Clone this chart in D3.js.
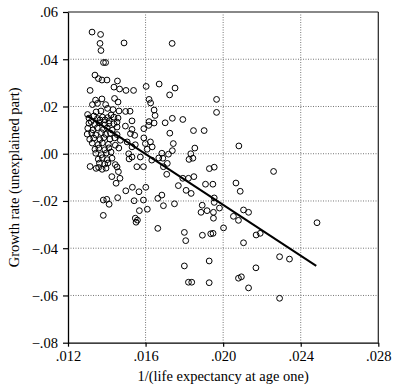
<!DOCTYPE html>
<html>
<head>
<meta charset="utf-8">
<script src="https://cdn.jsdelivr.net/npm/d3@7"></script>
<style>
  body { margin: 0; background: #fff; }
  svg { display: block; }
  text { font-family: "Liberation Serif", "Times New Roman", serif; }
</style>
</head>
<body>
<div id="chart"></div>
<script>
// 1/(life expectancy at age one)
const lifeInv = [
  0.01324, 0.01368, 0.01365, 0.01489, 0.01737, 0.01370, 0.01383, 0.01394, 0.01339, 0.01357,
  0.01375, 0.01401, 0.01455, 0.01437, 0.01466, 0.01499, 0.01538, 0.01603, 0.01670, 0.01752,
  0.01724, 0.01966, 0.01966, 0.01314, 0.01342, 0.01375, 0.01440, 0.01326, 0.01352, 0.01394,
  0.01458, 0.01618, 0.01626, 0.01301, 0.01345, 0.01370, 0.01404, 0.01432, 0.01463, 0.01497,
  0.01520, 0.01644, 0.01649, 0.01319, 0.01352, 0.01378, 0.01404, 0.01422, 0.01437, 0.01458,
  0.01453, 0.01530, 0.01618, 0.01644, 0.01701, 0.01738, 0.01792, 0.01725, 0.01847, 0.01902,
  0.01743, 0.01854, 0.01738, 0.02081, 0.01684, 0.01718, 0.01833, 0.01824, 0.01844, 0.01689,
  0.01712, 0.01692, 0.01709, 0.01929, 0.01954, 0.02260, 0.01792, 0.01821, 0.01849, 0.01769,
  0.01809, 0.01835, 0.01909, 0.01947, 0.02066, 0.02088, 0.01684, 0.01692, 0.01749, 0.01954,
  0.01954, 0.01892, 0.01981, 0.01886, 0.01917, 0.01950, 0.01950, 0.02053, 0.02079, 0.02105,
  0.02131, 0.02002, 0.01800, 0.01807, 0.01893, 0.01936, 0.01948, 0.02105, 0.02170, 0.02191,
  0.02291, 0.01800, 0.01928, 0.02169, 0.01821, 0.01838, 0.01928, 0.02079, 0.02094, 0.02131,
  0.02291, 0.02484, 0.02342, 0.01314, 0.01345, 0.01382, 0.01400, 0.01412, 0.01382, 0.01456,
  0.01498, 0.01532, 0.01566, 0.01601, 0.01541, 0.01589, 0.01568, 0.01609, 0.01547, 0.01558,
  0.01551, 0.01663, 0.01663, 0.01426, 0.01448, 0.01468, 0.01460, 0.01555, 0.01589, 0.01515,
  0.01632, 0.01436, 0.01453, 0.01496, 0.01530, 0.01522, 0.01544, 0.01591, 0.01616, 0.01453,
  0.01441, 0.01470, 0.01444, 0.01462, 0.01505, 0.01530, 0.01547, 0.01591, 0.01599, 0.01625,
  0.01634, 0.01608, 0.01513, 0.01530, 0.01573, 0.01444, 0.01453, 0.01668,
  0.01308, 0.01338, 0.01360, 0.01390, 0.01411,
  0.01302, 0.01329, 0.01351, 0.01383, 0.01402, 0.01428,
  0.01299, 0.01322, 0.01343, 0.01373, 0.01394, 0.01419,
  0.01312, 0.01333, 0.01365, 0.01385, 0.01416,
  0.01325, 0.01356, 0.01377, 0.01408,
  0.01339, 0.01359, 0.01390, 0.01411,
  0.01343, 0.01372, 0.01398,
  0.01356, 0.01377, 0.01402,
  0.01362, 0.01389, 0.01358, 0.01376, 0.01396,
  0.01308, 0.01334, 0.01365, 0.01391, 0.01412, 0.01422, 0.01427, 0.01406
];

// growth rate (unexplained part)
const growth = [
  0.0515, 0.0505, 0.0467, 0.0469, 0.0467, 0.0437, 0.0386, 0.0386, 0.0333, 0.0318,
  0.0312, 0.0312, 0.0308, 0.0282, 0.0274, 0.0268, 0.0268, 0.0285, 0.0295, 0.0278,
  0.0249, 0.0230, 0.0175, 0.0268, 0.0227, 0.0232, 0.0234, 0.0208, 0.0213, 0.0208,
  0.0219, 0.0230, 0.0215, 0.0166, 0.0177, 0.0181, 0.0192, 0.0187, 0.0181, 0.0179,
  0.0180, 0.0185, 0.0162, 0.0136, 0.0149, 0.0155, 0.0153, 0.0164, 0.0155, 0.0151,
  0.0134, 0.0139, 0.0136, 0.0130, 0.0131, 0.0150, 0.0145, 0.0087, 0.0098, 0.0098,
  0.0043, 0.0024, 0.0013, 0.0033, 0.0002, -0.0002, 0.0000, -0.0024, -0.0019, -0.0019,
  -0.0041, -0.0055, -0.0087, -0.0063, -0.0057, -0.0075, -0.0104, -0.0104, -0.0097, -0.0135,
  -0.0155, -0.0168, -0.0129, -0.0129, -0.0124, -0.0159, -0.0175, -0.0220, -0.0212, -0.0187,
  -0.0206, -0.0218, -0.0230, -0.0248, -0.0241, -0.0248, -0.0273, -0.0265, -0.0282, -0.0238,
  -0.0248, -0.0314, -0.0333, -0.0368, -0.0345, -0.0339, -0.0337, -0.0377, -0.0344, -0.0337,
  -0.0436, -0.0475, -0.0454, -0.0483, -0.0544, -0.0544, -0.0546, -0.0527, -0.0521, -0.0568,
  -0.0612, -0.0292, -0.0446, -0.0054, -0.0062, -0.0196, -0.0193, -0.0214, -0.0261, -0.0186,
  -0.0157, -0.0142, -0.0161, -0.0142, -0.0199, -0.0196, -0.0241, -0.0235, -0.0273, -0.0281,
  -0.0290, -0.0316, -0.0189, -0.0097, -0.0125, -0.0104, -0.0076, -0.0055, -0.0055, -0.0022,
  -0.0027, 0.0127, 0.0113, 0.0117, 0.0103, 0.0085, 0.0078, 0.0106, 0.0120, 0.0081,
  0.0067, 0.0057, 0.0036, 0.0024, 0.0050, 0.0029, 0.0038, 0.0067, 0.0043, 0.0050,
  0.0029, 0.0019, 0.0000, -0.0014, -0.0014, -0.0046, -0.0056, -0.0018,
  0.0129, 0.0124, 0.0131, 0.0122, 0.0128,
  0.0108, 0.0101, 0.0110, 0.0103, 0.0109, 0.0100,
  0.0083, 0.0088, 0.0080, 0.0089, 0.0082, 0.0087,
  0.0061, 0.0066, 0.0060, 0.0068, 0.0062,
  0.0045, 0.0039, 0.0046, 0.0040,
  0.0019, 0.0024, 0.0017, 0.0025,
  0.0002, -0.0004, 0.0003,
  -0.0023, -0.0017, -0.0025,
  -0.0040, -0.0044, -0.0058, -0.0066, -0.0061,
  0.0151, 0.0160, 0.0143, 0.0143, 0.0139, 0.0007, -0.0019, -0.0039
];

// fitted line end points
const fitX = [0.0130, 0.0248];
const fitY = [0.0160, -0.0475];

const xTicks = [0.012, 0.016, 0.020, 0.024, 0.028];
const xTickLabels = [".012", ".016", ".020", ".024", ".028"];
const yTicks = [-0.08, -0.06, -0.04, -0.02, 0.00, 0.02, 0.04, 0.06];
const yTickLabels = ["\u2212.08", "\u2212.06", "\u2212.04", "\u2212.02", ".00", ".02", ".04", ".06"];

const W = 393, H = 385;
const margin = {top: 12, right: 14.7, bottom: 42.3, left: 68};
const width = W - margin.left - margin.right,
      height = H - margin.top - margin.bottom;

const svg = d3.select("#chart").append("svg")
    .attr("width", W)
    .attr("height", H);

const g = svg.append("g")
    .attr("transform", "translate(" + margin.left + "," + margin.top + ")");

const x = d3.scaleLinear().domain([0.012, 0.028]).range([0, width]);
const y = d3.scaleLinear().domain([-0.08, 0.06]).range([height, 0]);

// dotted grid
g.append("g").selectAll("line")
  .data(xTicks.slice(1, -1))
  .join("line")
    .attr("x1", d => x(d)).attr("x2", d => x(d))
    .attr("y1", 0).attr("y2", height)
    .attr("stroke", "#777").attr("stroke-width", 1)
    .attr("stroke-dasharray", "1,1.5");

g.append("g").selectAll("line")
  .data(yTicks.slice(1, -1))
  .join("line")
    .attr("y1", d => y(d)).attr("y2", d => y(d))
    .attr("x1", 0).attr("x2", width)
    .attr("stroke", "#777").attr("stroke-width", 1)
    .attr("stroke-dasharray", "1,1.5");

// frame top + right
g.append("line")
  .attr("x1", 0).attr("x2", width).attr("y1", 0).attr("y2", 0)
  .attr("stroke", "#888").attr("stroke-width", 2);
g.append("line")
  .attr("x1", width).attr("x2", width).attr("y1", 0).attr("y2", height)
  .attr("stroke", "#222").attr("stroke-width", 1.2);

// axes
const xAxis = g.append("g")
  .attr("transform", "translate(0," + height + ")")
  .call(d3.axisBottom(x).tickValues(xTicks).tickSize(4).tickSizeOuter(0)
    .tickFormat((d, i) => xTickLabels[i]));

const yAxis = g.append("g")
  .call(d3.axisLeft(y).tickValues(yTicks).tickSize(5).tickSizeOuter(0)
    .tickFormat((d, i) => yTickLabels[i]));

[xAxis, yAxis].forEach(a => {
  a.select(".domain").attr("stroke", "#000").attr("stroke-width", 1.3);
  a.selectAll(".tick line").attr("stroke", "#000").attr("stroke-width", 1.2);
  a.selectAll(".tick text")
    .attr("fill", "#000")
    .style("font-family", "'Liberation Serif', serif")
    .style("font-size", "14.5px");
});
xAxis.selectAll(".tick text").attr("dy", "0.95em").attr("y", 5);
yAxis.selectAll(".tick text").attr("x", -10).attr("dy", "0.34em");

// points
g.append("g").selectAll("circle")
  .data(d3.range(lifeInv.length))
  .join("circle")
    .attr("cx", i => x(lifeInv[i]))
    .attr("cy", i => y(growth[i]))
    .attr("r", 2.9)
    .attr("fill", "none")
    .attr("stroke", "#000")
    .attr("stroke-width", 1);

// fitted line
const line = d3.line().x(d => x(d[0])).y(d => y(d[1]));
g.append("path")
  .datum(d3.zip(fitX, fitY))
  .attr("d", line)
  .attr("fill", "none")
  .attr("stroke", "#000")
  .attr("stroke-width", 2);

// axis titles
svg.append("text")
  .attr("x", margin.left + width / 2)
  .attr("y", 381)
  .attr("text-anchor", "middle")
  .style("font-size", "14.5px")
  .text("1/(life expectancy at age one)");

svg.append("text")
  .attr("transform", "translate(14," + (margin.top + height / 2) + ") rotate(-90)")
  .attr("text-anchor", "middle")
  .attr("dy", "0.35em")
  .style("font-size", "14.5px")
  .text("Growth rate (unexplained part)");
</script>
</body>
</html>
